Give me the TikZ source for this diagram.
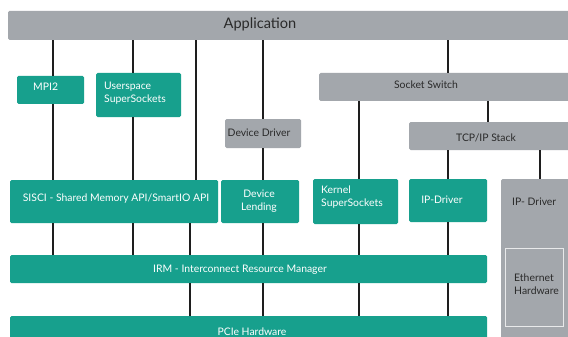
\documentclass[tikz,border=0pt]{standalone}
\usepackage{fontspec}
\setmainfont{Lato}
\usetikzlibrary{fit}
\definecolor{teal1}{HTML}{17A08D}
\definecolor{gray1}{HTML}{A3A7AC}
\definecolor{txtdark}{HTML}{2A2A2A}
\definecolor{linec}{HTML}{1E1E1E}
\begin{document}
\begin{tikzpicture}[x=1pt,y=-1pt,
  tbox/.style={fill=teal1,draw=none,rounded corners=1.5pt,inner sep=0pt},
  gbox/.style={fill=gray1,draw=none,rounded corners=1.5pt,inner sep=0pt},
  ebox/.style={fill=gray1,draw=white!75!gray1,line width=0.8pt,inner sep=0pt},
  wt/.style={text=white,font=\fontsize{10.4}{13}\selectfont,inner sep=0pt,align=left},
  dt/.style={text=txtdark,font=\fontsize{10.4}{13}\selectfont,inner sep=0pt,align=left},
  conn/.style={draw=linec,line width=1.2pt}]
\useasboundingbox (0,0) rectangle (568,337);
\fill[white] (0,0) rectangle (568,337);
% columns
\coordinate (xa) at (53,0);
\coordinate (xb) at (133,0);
\coordinate (xc) at (196,0);
\coordinate (xd) at (190,0);
\coordinate (xe) at (263,0);
\coordinate (xf) at (359,0);
\coordinate (xg) at (448,0);
\coordinate (xh) at (488,0);
\coordinate (xi) at (540,0);
% boxes
\node[gbox, fit={(8,11) (580,40)}] (app) {};
\node[tbox, fit={(17,76) (84,104)}] (mpi) {};
\node[tbox, fit={(96,73) (181,117)}] (uss) {};
\node[gbox, fit={(225,119) (301,148)}] (dd) {};
\node[gbox, fit={(319,73) (580,101)}] (ss) {};
\node[gbox, fit={(409,122) (580,150)}] (tcp) {};
\node[tbox, fit={(10,180) (218,223)}] (sisci) {};
\node[tbox, fit={(221,180) (299,223)}] (dl) {};
\node[tbox, fit={(313,179) (398,224)}] (kss) {};
\node[tbox, fit={(409,179) (487,222)}] (ipd) {};
\node[gbox, fit={(501,179) (580,350)}] (gip) {};
\node[ebox, fit={(505,248) (563,326)}] (eth) {};
\node[tbox, fit={(10,255) (487,283)}] (irm) {};
\node[tbox, fit={(10,316) (487,350)}] (pcie) {};
% connectors
\draw[conn] (app.south -| xa) -- (mpi.north -| xa);
\draw[conn] (mpi.south -| xa) -- (sisci.north -| xa);
\draw[conn] (sisci.south -| xa) -- (irm.north -| xa);
\draw[conn] (app.south -| xb) -- (uss.north -| xb);
\draw[conn] (uss.south -| xb) -- (sisci.north -| xb);
\draw[conn] (sisci.south -| xb) -- (irm.north -| xb);
\draw[conn] (app.south -| xc) -- (sisci.north -| xc);
\draw[conn] (sisci.south -| xd) -- (irm.north -| xd);
\draw[conn] (irm.south -| xd) -- (pcie.north -| xd);
\draw[conn] (app.south -| xe) -- (dd.north -| xe);
\draw[conn] (dd.south -| xe) -- (dl.north -| xe);
\draw[conn] (dl.south -| xe) -- (irm.north -| xe);
\draw[conn] (irm.south -| xe) -- (pcie.north -| xe);
\draw[conn] (app.south -| xg) -- (ss.north -| xg);
\draw[conn] (tcp.south -| xg) -- (ipd.north -| xg);
\draw[conn] (ipd.south -| xg) -- (irm.north -| xg);
\draw[conn] (irm.south -| xg) -- (pcie.north -| xg);
\draw[conn] (ss.south -| xf) -- (kss.north -| xf);
\draw[conn] (kss.south -| xf) -- (irm.north -| xf);
\draw[conn] (irm.south -| xf) -- (pcie.north -| xf);
\draw[conn] (ss.south -| xh) -- (tcp.north -| xh);
\draw[conn] (tcp.south -| xi) -- (gip.north -| xi);
% texts
\node[dt, font=\fontsize{14.6}{17}\selectfont] (tapp) at (260,24) {Application};
\node[wt, anchor=west] (tmpi) at (33,87) {MPI2};
\node[wt, anchor=west] (tuss) at (104,93) {Userspace\\SuperSockets};
\node[dt] (tdd) at (259,133) {Device Driver};
\node[dt] (tss) at (426,85) {Socket Switch};
\node[dt] (ttcp) at (486,138) {TCP/IP Stack};
\node[wt] (tsisci) at (116,199) {SISCI - Shared Memory API/SmartIO API};
\node[wt, align=center] (tdl) at (259,201) {Device\\Lending};
\node[wt, anchor=west] (tkss) at (321,197) {Kernel\\SuperSockets};
\node[wt] (tipd) at (442,200) {IP-Driver};
\node[dt, anchor=west] (tgip) at (512,202) {IP- Driver};
\node[dt, anchor=west] (teth) at (514,284) {Ethernet\\Hardware};
\node[wt] (tirm) at (240,270) {IRM - Interconnect Resource Manager};
\node[wt] (tpcie) at (252,332) {PCIe Hardware};
\end{tikzpicture}
\end{document}
